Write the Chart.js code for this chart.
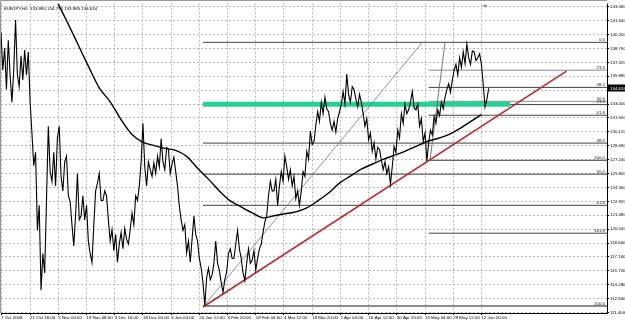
<!DOCTYPE html>
<html><head><meta charset="utf-8">
<script src="https://cdn.jsdelivr.net/npm/chart.js@4.4.0/dist/chart.umd.min.js"></script>
<style>html,body{margin:0;padding:0;background:#fff;overflow:hidden}canvas{display:block}</style>
</head><body>
<canvas id="c" width="625" height="323"></canvas>
<script>
// ---------- DATA ----------
const symbolHeader = "EURJPY,H4  133.885 134.770 133.885 134.634";
const priceStep = 4; // H4 bars between samples
const priceValues = [
140.42,136.5, 138.8,134.5, 139.6,136.0, 133.2,136.5, 141.7,136.0,
134.8,138.0, 135.5,138.6, 136.0,138.4, 133.2,130.0, 126.6,128.0,
119.9,122.5, 113.7,117.5, 115.5,123.0, 130.7,126.0, 125.0,128.0,
124.5,129.5, 130.7,125.5, 124.0,127.0, 127.6,123.5, 122.9,120.5,
118.3,121.5, 125.8,121.0, 121.4,123.5, 121.0,122.5, 118.8,117.5,
116.6,120.5, 124.0,124.8, 125.8,123.0, 123.0,124.0, 123.5,121.0,
118.8,120.0, 117.8,119.5, 116.6,118.5, 119.7,118.0, 120.1,119.0,
118.5,120.0, 121.7,120.5, 123.5,123.0, 124.5,127.0, 131.0,126.5,
124.5,127.0, 126.2,125.5, 126.9,125.8, 127.6,126.5, 129.4,127.0,
126.2,128.5, 128.3,125.8, 126.8,127.5, 126.0,124.5, 122.4,121.0,
119.9,120.5, 117.6,118.8, 116.6,119.0, 121.4,119.5, 118.8,117.0,
116.0,114.5, 112.1,115.0, 116.0,114.8, 115.3,116.5, 118.8,116.5,
115.8,114.5, 113.5,114.8, 115.6,117.5, 118.0,117.0, 117.0,118.5,
119.9,118.0, 117.0,115.5, 114.7,116.5, 118.0,116.5, 116.8,117.8,
115.8,117.0, 118.0,118.5, 119.7,120.8, 121.4,123.5, 125.0,124.0,
124.0,125.2, 122.5,124.5, 126.0,125.0, 127.6,126.5, 125.2,126.2,
124.5,125.5, 123.2,124.0, 122.5,124.0, 126.0,125.5, 128.1,127.3,
130.2,128.8, 129.1,130.8, 132.2,131.2, 133.2,132.0, 133.7,132.5,
132.2,131.0, 130.3,131.2, 130.1,131.5, 132.2,133.0, 134.3,133.0,
136.1,134.0, 133.2,134.8, 134.5,133.5, 132.7,134.0, 133.2,132.0,
130.7,131.5, 129.3,130.0, 128.1,129.0, 127.3,128.5, 128.3,127.2,
126.2,127.0, 125.8,126.5, 124.7,126.5, 128.6,128.0, 130.3,129.5,
132.0,131.0, 133.0,132.0, 132.4,133.2, 134.3,132.6, 132.4,133.0,
130.7,131.5, 129.1,130.0, 127.1,129.0, 130.3,129.8, 131.7,131.0,
132.4,131.8, 133.2,132.5, 133.7,134.5, 135.1,134.2, 135.5,136.5,
137.1,136.0, 137.8,136.8, 138.4,137.2, 139.2,137.8, 137.1,138.5,
138.4,137.5, 137.8,138.2, 137.1,135.0, 132.7,133.5, 134.634
];
const maStartBar = 96, maStep = 24;
const maValues = [
146.27,143.91,141.65,139.29,136.93,134.67,133.23,131.38,129.84,129.02,
128.71,128.40,128.20,127.58,126.35,125.22,123.99,122.96,122.34,121.73,
121.21,121.42,121.63,121.83,122.24,122.96,123.78,124.81,125.53,126.25,
126.76,127.27,127.68,128.10,128.61,129.12,129.43,129.84,130.46,131.18,131.90
];
const xTickBars = [0,64,126,188,250,312,374,436,498,560,622,684,746,808,870,932,994,1056];
const xTickLabels = ["7 Oct 2008","21 Oct 16:00","5 Nov 00:00","19 Nov 08:00","3 Dec 16:00","18 Dec 00:00","6 Jan 04:00","20 Jan 12:00","3 Feb 20:00","18 Feb 04:00","4 Mar 12:00","18 Mar 20:00","2 Apr 04:00","16 Apr 12:00","30 Apr 20:00","15 May 04:00","29 May 12:00","12 Jun 20:00"];
const yTickValues = [143.080,141.640,140.200,138.760,137.320,135.880,134.440,133.000,131.560,130.120,128.680,127.240,125.800,124.360,122.920,121.480,120.040,118.600,117.160,115.720,114.280,112.840,111.400];
const lastPrice = 134.634;
const xMin = 0, xMax = 1332, yMin = 111.35, yMax = 143.40;
// Fibonacci A (Apr low -> high)
const fibAHighLow = [139.39, 127.17];
const fibAStartBar = 940;
const fibALevels = [23.6, 38.2, 50.0, 61.8, 100.0, 161.8];
// Fibonacci B (Jan low -> high)
const fibBHighLow = [139.39, 112.07];
const fibBStartBar = 444;
const fibBLevels = [0.0, 23.6, 38.2, 50.0, 61.8, 100.0];
// trend lines [bar, price]
const redTrend = [[444, 111.97], [1243, 136.41]];
const fibBDiagonal = [[444, 111.97], [926, 139.39]];
const fibADiagonal = [[943, 127.17], [976, 139.39]];
const greenZone = [[444, 132.97], [1119, 132.97]];
const shiftMarkerBar = 1064;

// ---------- BUILD ----------
const FONT = "'Liberation Sans', Arial, sans-serif";
const pts = a => a.map(p => ({x: p[0], y: p[1]}));
const priceData = priceValues.map((v, i) => ({x: i * priceStep, y: v}));
const maData = maValues.map((v, k) => ({x: maStartBar + k * maStep, y: v}));
const lvl = (hl, r) => hl[0] - (hl[0] - hl[1]) * r / 100;

const fibLabels = [];
const fibSets = [];
fibBLevels.forEach(r => { const p = lvl(fibBHighLow, r); fibSets.push({data: pts([[fibBStartBar, p], [xMax, p]]), borderColor: r === 100 ? '#8a8a8a' : '#444', borderWidth: r === 100 ? 2 : 1}); fibLabels.push([r, p]); });
fibALevels.forEach(r => { const p = lvl(fibAHighLow, r); fibSets.push({data: pts([[fibAStartBar, p], [xMax, p]]), borderColor: (r === 23.6 || r === 50) ? '#8a8a8a' : '#444', borderWidth: 1}); fibLabels.push([r, p]); });

const base = {pointRadius: 0, fill: false, tension: 0, borderJoinStyle: 'miter'};
const datasets = [
  Object.assign({}, base, {data: priceData, borderColor: '#000', borderWidth: 1.1}),
  Object.assign({}, base, {data: maData, borderColor: '#000', borderWidth: 1.4, tension: 0.3}),
  Object.assign({}, base, {data: pts(redTrend), borderColor: '#c0282d', borderWidth: 1.6}),
  Object.assign({}, base, {data: pts(fibBDiagonal), borderColor: '#7a7a7a', borderWidth: 0.8}),
  Object.assign({}, base, {data: pts(fibADiagonal), borderColor: '#555', borderWidth: 0.8}),
  Object.assign({}, base, {data: pts(greenZone), borderColor: '#22d394', borderWidth: 5, borderCapStyle: 'butt'}),
].concat(fibSets.map(f => Object.assign({}, base, f)));

const overlay = {
  id: 'overlay',
  afterDatasetsDraw(chart) {
    const {ctx, chartArea: a, scales: {x, y}} = chart;
    ctx.save();
    ctx.font = '4.4px ' + FONT;
    ctx.fillStyle = '#222';
    ctx.textAlign = 'right';
    ctx.textBaseline = 'bottom';
    fibLabels.forEach(([r, p]) => ctx.fillText(r.toFixed(1), a.right - 2, y.getPixelForValue(p) - 0.5));
    ctx.restore();
  },
  afterDraw(chart) {
    const {ctx, chartArea: a, scales: {x, y}} = chart;
    ctx.save();
    ctx.lineWidth = 1;
    ctx.strokeStyle = '#999';
    ctx.beginPath(); ctx.moveTo(0.5, a.bottom); ctx.lineTo(0.5, 0.5); ctx.lineTo(a.right, 0.5); ctx.stroke();
    ctx.strokeStyle = '#000';
    ctx.beginPath(); ctx.moveTo(a.left, a.bottom + 0.5); ctx.lineTo(a.right + 0.5, a.bottom + 0.5); ctx.lineTo(a.right + 0.5, a.top); ctx.stroke();
    ctx.font = '4.4px ' + FONT;
    ctx.fillStyle = '#000';
    ctx.textAlign = 'left'; ctx.textBaseline = 'middle';
    ctx.fillText(symbolHeader, a.left + 3, a.top + 5);
    const py = Math.round(y.getPixelForValue(lastPrice));
    ctx.fillStyle = '#000';
    ctx.fillRect(a.right + 1, py - 3.5, 625 - a.right - 1, 7);
    ctx.fillStyle = '#fff';
    ctx.fillText(lastPrice.toFixed(3), a.right + 3, py + 0.3);
    const mx = x.getPixelForValue(shiftMarkerBar);
    ctx.fillStyle = '#8a8a8a';
    ctx.beginPath(); ctx.moveTo(mx - 2.5, a.top + 1); ctx.lineTo(mx + 2.5, a.top + 1); ctx.lineTo(mx, a.top + 4); ctx.closePath(); ctx.fill();
    ctx.restore();
  }
};

new Chart(document.getElementById('c'), {
  type: 'line',
  data: {datasets},
  plugins: [overlay],
  options: {
    responsive: false, animation: false, devicePixelRatio: 1,
    layout: {padding: {top: 1, left: 1, right: 0, bottom: 0}},
    plugins: {legend: {display: false}, tooltip: {enabled: false}},
    scales: {
      x: {
        type: 'linear', min: xMin, max: xMax,
        afterBuildTicks: s => { s.ticks = xTickBars.map(v => ({value: v})); },
        afterFit: s => { s.height = 10; },
        ticks: {autoSkip: false, maxRotation: 0, minRotation: 0, align: 'start', padding: 0, color: '#000',
          font: {family: FONT, size: 4.4}, callback: (v, i) => xTickLabels[i]},
        grid: {color: '#b8b8b8', lineWidth: 1, drawTicks: true, tickLength: 2, tickColor: '#000'},
        border: {display: false, dash: [2, 2]}
      },
      y: {
        type: 'linear', position: 'right', min: yMin, max: yMax,
        afterBuildTicks: s => { s.ticks = yTickValues.map(v => ({value: v})); },
        afterFit: s => { s.width = 18; },
        ticks: {autoSkip: false, padding: 1, color: '#000', font: {family: FONT, size: 4.4},
          callback: v => v.toFixed(3)},
        grid: {color: '#b8b8b8', lineWidth: 1, drawTicks: true, tickLength: 2, tickColor: '#000'},
        border: {display: false, dash: [2, 2]}
      }
    }
  }
});
</script>
</body></html>
